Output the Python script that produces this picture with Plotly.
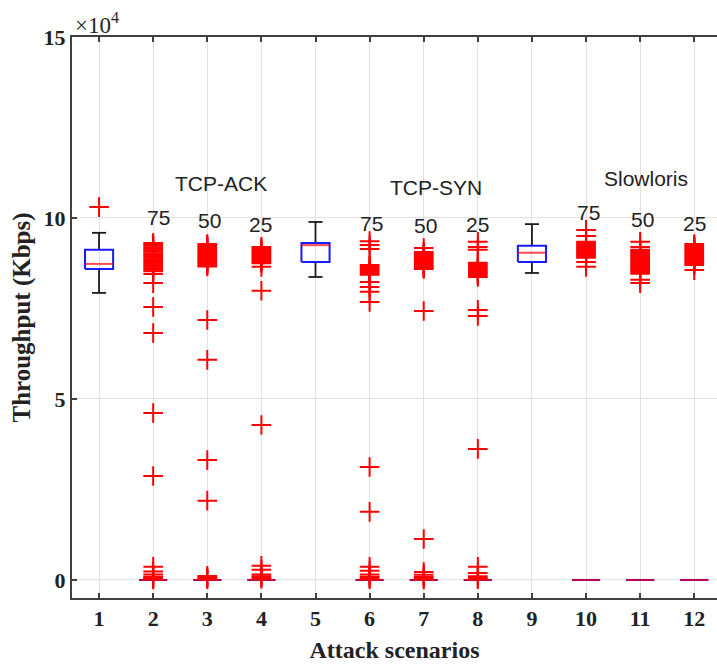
import plotly.graph_objects as go

# Attack scenarios 1..12 (1, 5, 9 = baseline runs; others = attacks at 75/50/25 %)
scenarios = [1, 2, 3, 4, 5, 6, 7, 8, 9, 10, 11, 12]

# Box statistics per scenario, throughput in Kbps
lower_whisker = [79300, 0, 0, 0, 83700, 0, 0, 0, 84800, 0, 0, 0]
q1 = [85900, 0, 0, 0, 87800, 0, 0, 0, 87800, 0, 0, 0]
median = [87300, 0, 0, 0, 92500, 0, 0, 0, 90400, 0, 0, 0]
q3 = [91200, 0, 0, 0, 93100, 0, 0, 0, 92300, 0, 0, 0]
upper_whisker = [95900, 0, 0, 0, 98900, 0, 0, 0, 98300, 0, 0, 0]

# Outliers per scenario (Kbps)
outliers = {
    1: [103000],
    2: [93100, 92700, 92300, 91900, 91500, 91100, 90700, 90200, 89800, 89400,
        89000, 88600, 88200, 87800, 87300, 86900, 86500, 86100, 85700, 85300,
        84500, 82000, 75400, 68200, 46100, 28700,
        3600, 2300, 1500, 900, 600, 300, 150],
    3: [92800, 92450, 92100, 91750, 91400, 91050, 90700, 90350, 90000, 89650,
        89300, 88950, 88600, 88250, 87900, 87550, 87200, 86850, 86600,
        71800, 60800, 33100, 21900, 1100, 700, 400, 200],
    4: [92000, 91650, 91300, 90950, 90600, 90250, 89900, 89550, 89200, 88850,
        88500, 88150, 87800, 87500, 86500, 79900, 42800,
        3900, 2800, 1500, 1000, 600, 300],
    6: [93600, 92500, 91400, 87000, 86650, 86300, 85950, 85600, 85250, 84900,
        84550, 84300, 82300, 80900, 79600, 76800, 31200, 18800,
        3600, 2500, 1500, 900, 500, 200],
    7: [91700, 90600, 90250, 89900, 89550, 89200, 88850, 88500, 88150, 87800,
        87450, 87100, 86750, 86400, 86100, 85900, 74300, 11300,
        2200, 1400, 800, 400, 150],
    8: [93400, 92000, 91200, 87600, 87250, 86900, 86550, 86200, 85850, 85500,
        85150, 84800, 84450, 84100, 83700, 74600, 72900, 36200,
        3600, 1900, 1000, 500, 200],
    10: [96700, 95000, 93400, 93100, 92750, 92400, 92050, 91700, 91350, 91000,
         90650, 90300, 89950, 89600, 89250, 89000, 87800, 86500],
    11: [93400, 92000, 91200, 90850, 90500, 90150, 89800, 89450, 89100, 88750,
         88400, 88050, 87700, 87350, 87000, 86650, 86300, 85950, 85600, 85250,
         84900, 84600, 82900, 82000],
    12: [92800, 92450, 92100, 91750, 91400, 91050, 90700, 90350, 90000, 89650,
         89300, 88950, 88600, 88250, 87900, 87550, 87200, 87000, 85600],
}

# Text labels drawn over the plot: (text, x, y)
group_labels = [("TCP-ACK", 3.25, 109600), ("TCP-SYN", 7.23, 108300),
                ("Slowloris", 11.1, 111000)]
level_labels = [("75", 2.09, 100000), ("50", 3.05, 99200), ("25", 3.99, 98100),
                ("75", 6.03, 98600), ("50", 7.04, 97800), ("25", 7.99, 98100),
                ("75", 10.04, 101400), ("50", 11.04, 99700), ("25", 12.0, 98600)]

y_ticks = [0, 50000, 100000, 150000]
y_tick_text = ["0", "5", "10", "15"]

BOX_HALF = 0.26
CAP_HALF = 0.13

box_x, box_y = [], []
med_x, med_y = [], []
wh_x, wh_y = [], []
out_x, out_y = [], []
for i, s in enumerate(scenarios):
    box_x += [s - BOX_HALF, s + BOX_HALF, s + BOX_HALF, s - BOX_HALF, s - BOX_HALF, None]
    box_y += [q1[i], q1[i], q3[i], q3[i], q1[i], None]
    med_x += [s - BOX_HALF, s + BOX_HALF, None]
    med_y += [median[i], median[i], None]
    if upper_whisker[i] > q3[i]:
        wh_x += [s, s, None, s - CAP_HALF, s + CAP_HALF, None]
        wh_y += [q3[i], upper_whisker[i], None, upper_whisker[i], upper_whisker[i], None]
    if lower_whisker[i] < q1[i]:
        wh_x += [s, s, None, s - CAP_HALF, s + CAP_HALF, None]
        wh_y += [q1[i], lower_whisker[i], None, lower_whisker[i], lower_whisker[i], None]
    for v in outliers.get(s, []):
        out_x.append(s)
        out_y.append(v)

fig = go.Figure()
fig.add_trace(go.Scatter(x=wh_x, y=wh_y, mode="lines",
                         line=dict(color="#1a1a1a", width=1.8), hoverinfo="skip"))
fig.add_trace(go.Scatter(x=box_x, y=box_y, mode="lines",
                         line=dict(color="#1a1aff", width=2), hoverinfo="skip"))
fig.add_trace(go.Scatter(x=med_x, y=med_y, mode="lines", opacity=0.7,
                         line=dict(color="#ff0000", width=2), hoverinfo="skip"))
fig.add_trace(go.Scatter(x=out_x, y=out_y, mode="markers",
                         marker=dict(symbol="cross-thin", size=14,
                                     line=dict(color="#ff0000", width=2))))

for text, x, y in group_labels + level_labels:
    fig.add_annotation(x=x, y=y, text=text, showarrow=False,
                       font=dict(family="Liberation Sans, Arial", size=21, color="#222222"))

# Axis multiplier shown above the y axis
fig.add_annotation(xref="paper", yref="paper", x=0, y=1, xanchor="left", yanchor="bottom",
                   xshift=1, yshift=-3, text="×10<sup>4</sup>", showarrow=False,
                   font=dict(family="Liberation Serif, Times New Roman", size=23, color="#262626"))

serif_bold = dict(family="Liberation Serif, Times New Roman", size=22, color="#222222", weight="bold")
axis_common = dict(showline=True, linecolor="#404040", linewidth=2, ticks="inside",
                   ticklen=5, tickwidth=1.5, tickcolor="#404040", showgrid=True,
                   gridcolor="#e2e2e2", gridwidth=1, zeroline=False, tickfont=serif_bold)

fig.update_layout(
    width=717, height=671, margin=dict(l=72, r=0, t=37, b=73),
    paper_bgcolor="white", plot_bgcolor="white", showlegend=False,
    xaxis=dict(range=[0.5, 12.42], tickvals=scenarios, mirror="ticks",
               title=dict(text="Attack scenarios", standoff=11,
                          font=dict(family="Liberation Serif, Times New Roman", size=24,
                                    color="#222222", weight="bold")),
               **axis_common),
    yaxis=dict(range=[-5000, 150000], tickvals=y_ticks, ticktext=y_tick_text,
               title=dict(text="Throughput (Kbps)", standoff=6,
                          font=dict(family="Liberation Serif, Times New Roman", size=25,
                                    color="#222222", weight="bold")),
               **axis_common),
)

fig.write_html("out.html")
